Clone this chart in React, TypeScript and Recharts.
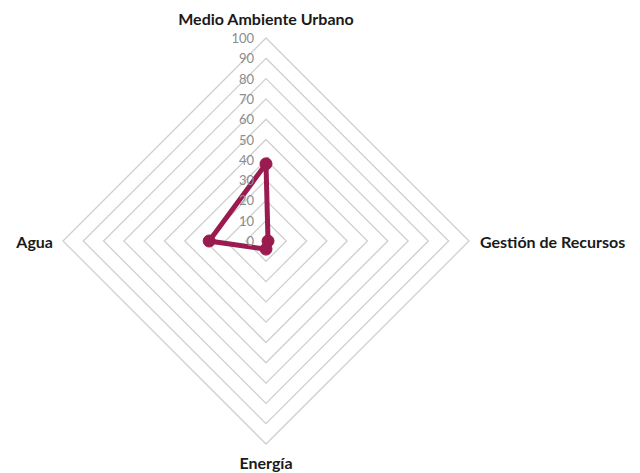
import React from 'react';
import { RadarChart, PolarGrid, PolarAngleAxis, PolarRadiusAxis, Radar } from 'recharts';

const categories = ['Medio Ambiente Urbano', 'Gestión de Recursos', 'Energía', 'Agua'];
const values = [38, 1, 4, 28];
const radiusTicks = [0, 10, 20, 30, 40, 50, 60, 70, 80, 90, 100];

const data = categories.map((name, i) => ({ name, value: values[i] }));

const CX = 266;
const CY = 241;
const R = 203;
const LINE = '#991b4f';

const AngleTick = (props: any) => {
  const { x, y, payload, textAnchor } = props;
  let dx = 0;
  let dy = 0;
  if (textAnchor === 'middle') {
    dy = y < CY ? -12 : 10;
  } else if (textAnchor === 'end') {
    dx = -2;
  } else {
    dx = 3;
  }
  return (
    <text
      x={x + dx}
      y={y + dy}
      textAnchor={textAnchor}
      dominantBaseline="central"
      fontFamily="Lato, sans-serif"
      fontWeight="bold"
      fontSize={16}
      fill="#1a1a1a"
    >
      {payload.value}
    </text>
  );
};

const RadiusTick = (props: any) => {
  const { x, y, payload } = props;
  return (
    <text
      x={x - 12}
      y={y}
      textAnchor="end"
      dominantBaseline="central"
      fontFamily="Lato, sans-serif"
      fontSize={13}
      fill="#8c8c8c"
    >
      {payload.value}
    </text>
  );
};

const Dot = (props: any) => {
  const { cx, cy } = props;
  return <circle cx={cx} cy={cy} r={6} fill={LINE} stroke={LINE} />;
};

export default function App() {
  return (
    <div style={{ position: 'absolute', left: 0, top: 0, width: 640, height: 473, background: '#fff' }}>
      <RadarChart width={640} height={473} cx={CX} cy={CY} outerRadius={R} data={data}>
        <PolarGrid
          gridType="polygon"
          radialLines={false}
          stroke="#cfcfcf"
          strokeWidth={1.3}
          polarRadius={radiusTicks.map((t) => (t / 100) * R).filter((r) => r > 0)}
        />
        <PolarAngleAxis dataKey="name" tick={<AngleTick />} tickLine={false} axisLine={false} />
        <PolarRadiusAxis
          angle={90}
          domain={[0, 100]}
          ticks={radiusTicks as any}
          tickCount={11}
          tick={<RadiusTick />}
          axisLine={false}
          tickLine={false}
        />
        <Radar
          dataKey="value"
          stroke={LINE}
          strokeWidth={5}
          fill="none"
          fillOpacity={0}
          dot={<Dot />}
          isAnimationActive={false}
        />
      </RadarChart>
    </div>
  );
}
